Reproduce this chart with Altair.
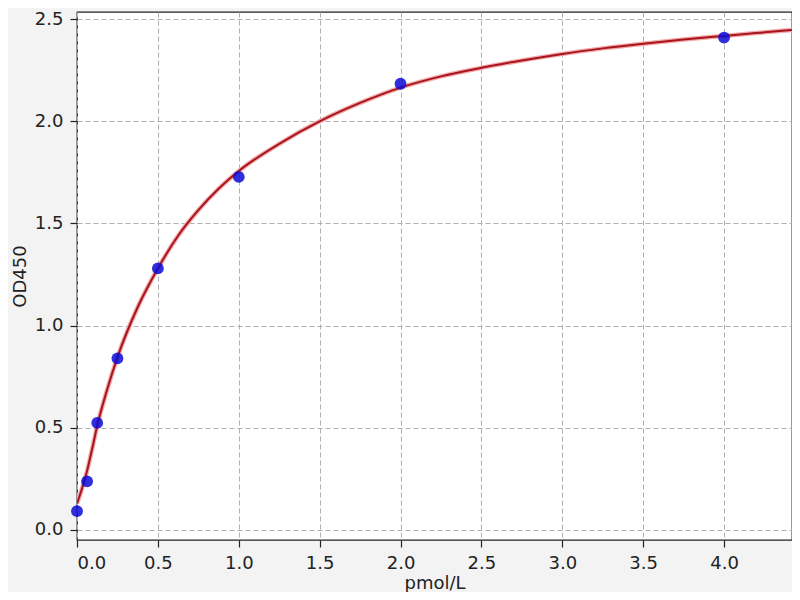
import altair as alt
import pandas as pd

# Standard points
conc = [0, 0.0625, 0.125, 0.25, 0.5, 1, 2, 4]
od = [0.092, 0.238, 0.524, 0.84, 1.28, 1.728, 2.184, 2.41]

# Fitted curve
fit_x = [0, 0.03, 0.0625, 0.1, 0.125, 0.1875, 0.25, 0.375, 0.5, 0.625, 0.75,
         0.875, 1.0, 1.25, 1.5, 1.75, 2.0, 2.25, 2.5, 2.75, 3.0, 3.25, 3.5,
         3.75, 4.0, 4.2, 4.42]
fit_y = [0.13, 0.2, 0.29, 0.42, 0.51, 0.69, 0.845, 1.09, 1.28, 1.44, 1.565,
         1.67, 1.757, 1.89, 2.0, 2.09, 2.165, 2.22, 2.262, 2.298, 2.33, 2.357,
         2.38, 2.40, 2.418, 2.432, 2.447]

x_ticks = [0, 0.5, 1.0, 1.5, 2.0, 2.5, 3.0, 3.5, 4.0]
y_ticks = [0, 0.5, 1.0, 1.5, 2.0, 2.5]

pts = pd.DataFrame({"x": conc, "y": od})
fit = pd.DataFrame({"x": fit_x, "y": fit_y})

xs = alt.Scale(domain=[0, 4.42], nice=False, zero=False)
ys = alt.Scale(domain=[-0.049, 2.535], nice=False, zero=False)

xaxis = alt.Axis(values=x_ticks, format=".1f", title="pmol/L", grid=True,
                 gridDash=[5, 3], gridColor="#b0b0b0", gridWidth=1,
                 tickSize=7, tickWidth=1.2, labelPadding=7, domain=False,
                 titleY=48, titleBaseline="alphabetic")
yaxis = alt.Axis(values=y_ticks, format=".1f", title="OD450", grid=True,
                 gridDash=[5, 3], gridColor="#b0b0b0", gridWidth=1,
                 tickSize=7, tickWidth=1.2, labelPadding=7, domain=False,
                 titleX=-57, titleBaseline="middle")

halo = alt.Chart(fit).mark_line(color="#f2a8a8", strokeWidth=4.5, clip=True,
                                interpolate="monotone").encode(
    x=alt.X("x:Q", scale=xs, axis=xaxis),
    y=alt.Y("y:Q", scale=ys, axis=yaxis),
)
core = alt.Chart(fit).mark_line(color="#a8141e", strokeWidth=2, clip=True,
                                interpolate="monotone").encode(
    x=alt.X("x:Q", scale=xs),
    y=alt.Y("y:Q", scale=ys),
)
dots = alt.Chart(pts).mark_point(filled=True, shape="circle", size=140,
                                 color="#0a0ad8", opacity=0.85).encode(
    x=alt.X("x:Q", scale=xs),
    y=alt.Y("y:Q", scale=ys),
)

chart = (halo + core + dots).properties(
    width=715, height=528,
    autosize=alt.AutoSizeParams(type="none"),
    padding={"left": 69, "top": 4, "right": 0, "bottom": 52},
    background="#f3f3f3",
).configure_view(
    fill="white", stroke="#222222", strokeWidth=1.3
).configure_axis(
    labelFont="DejaVu Sans", labelFontSize=18, labelColor="#222222",
    titleFont="DejaVu Sans", titleFontSize=18, titleFontWeight="normal",
    titleColor="#222222", tickColor="#222222",
)

chart.save("out.html", embed_options={"renderer": "svg", "actions": False})
